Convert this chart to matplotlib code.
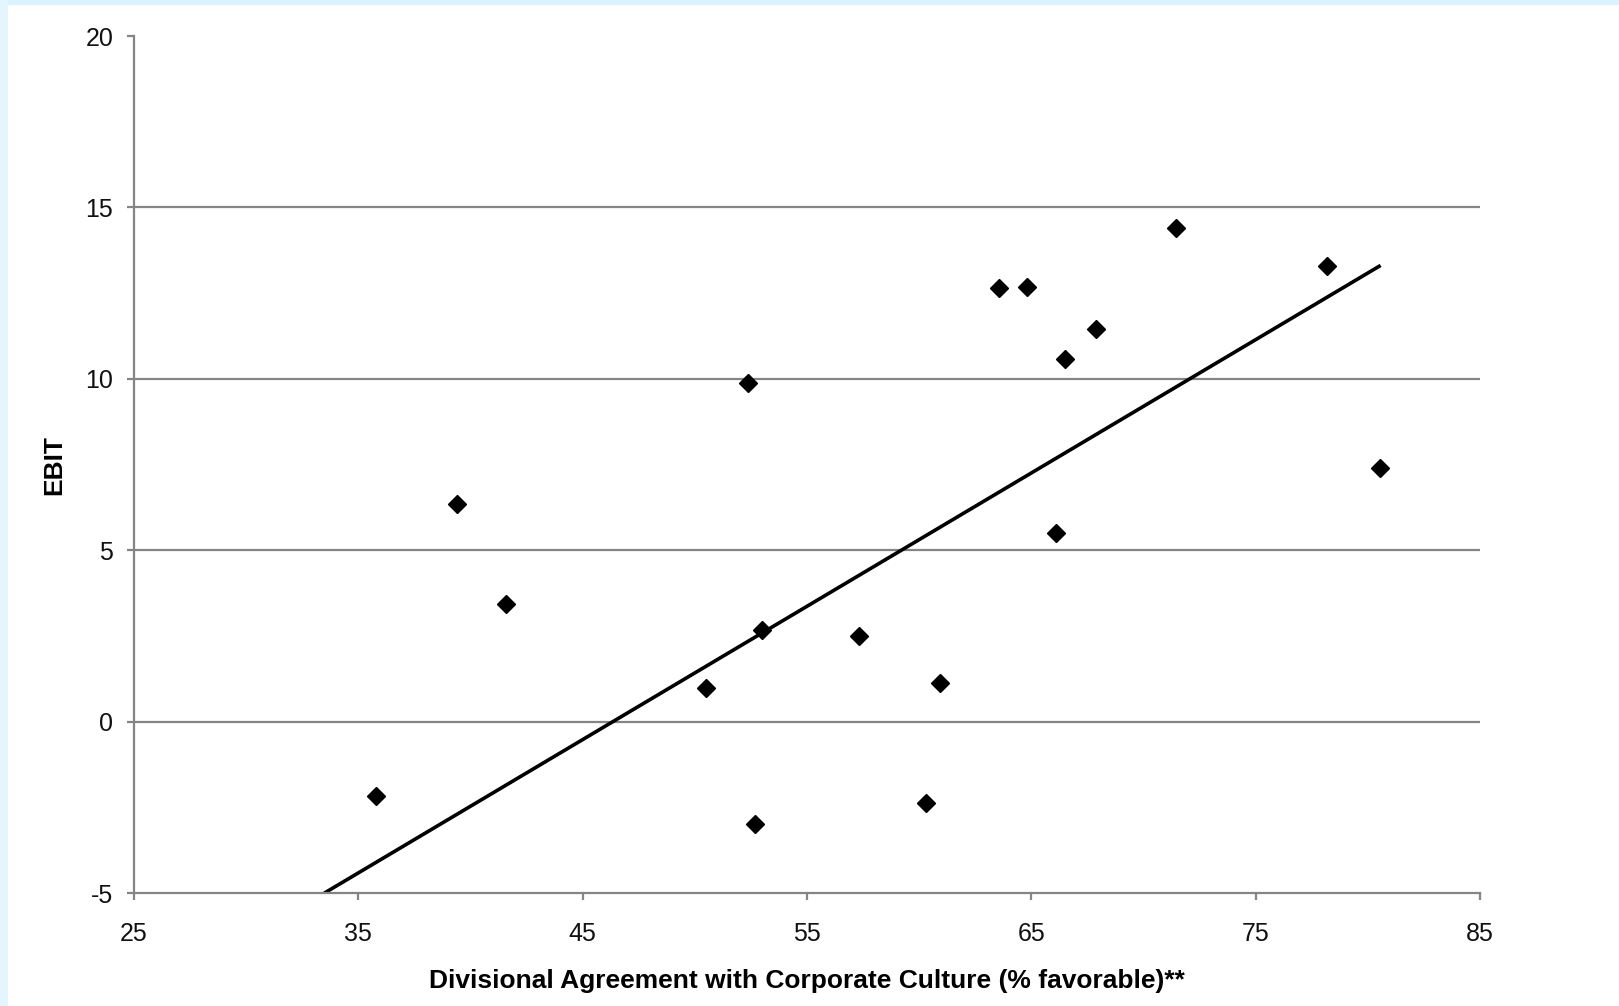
import numpy as np
import matplotlib.pyplot as plt
from matplotlib.patches import Rectangle

# divisional agreement (% favorable) vs EBIT
agreement = [35.8, 39.4, 41.6, 50.5, 52.35, 52.7, 53.0, 57.3, 60.3, 60.95,
             63.55, 64.8, 66.1, 66.5, 67.9, 71.45, 78.2, 80.55]
ebit = [-2.17, 6.36, 3.43, 1.0, 9.88, -2.98, 2.68, 2.5, -2.38, 1.14,
        12.65, 12.68, 5.51, 10.57, 11.45, 14.4, 13.28, 7.41]

# trend line (start at the axis floor, end at last point)
trend_x = [33.47, 80.57]
trend_y = [-5.0, 13.31]

x_ticks = [25, 35, 45, 55, 65, 75, 85]
y_ticks = [-5, 0, 5, 10, 15, 20]
grid_levels = [0, 5, 10, 15]

plt.rcParams['font.family'] = ['Liberation Sans', 'DejaVu Sans']
plt.rcParams['axes.unicode_minus'] = False

fig = plt.figure(figsize=(16.19, 10.06), dpi=100)
# light blue frame strips from the slide background
fig.add_artist(Rectangle((0, 1 - 5 / 1006), 1, 5 / 1006, transform=fig.transFigure,
                         color='#dcf2fc', lw=0, zorder=0))
fig.add_artist(Rectangle((0, 0), 8 / 1619, 1, transform=fig.transFigure,
                         color='#e4f5fd', lw=0, zorder=0))

ax = fig.add_axes([134 / 1619, 112.7 / 1006, (1480 - 134) / 1619, (970 - 112.7) / 1006])

for g in grid_levels:
    ax.axhline(g, color='#858585', lw=1.6, zorder=1)

ax.plot(trend_x, trend_y, color='black', lw=2.6, zorder=2, solid_capstyle='butt')
ax.plot(agreement, ebit, linestyle='none', marker='D', markersize=9.5,
        color='black', zorder=3)

ax.set_xlim(25, 85)
ax.set_ylim(-5, 20)
ax.set_xticks(x_ticks)
ax.set_yticks(y_ticks)
for s in ['top', 'right']:
    ax.spines[s].set_visible(False)
for s in ['left', 'bottom']:
    ax.spines[s].set_color('#858585')
    ax.spines[s].set_linewidth(1.6)
ax.tick_params(axis='both', colors='#858585', length=5, width=1.6,
               labelsize=18, labelcolor='#111111')
ax.tick_params(axis='y', pad=10)
ax.tick_params(axis='x', pad=16)

ax.set_xlabel('Divisional Agreement with Corporate Culture (% favorable)**',
              fontsize=19, fontweight='bold', labelpad=16)
ax.set_ylabel('EBIT', fontsize=19, fontweight='bold', labelpad=14)

fig.savefig('out.png', dpi=100)
